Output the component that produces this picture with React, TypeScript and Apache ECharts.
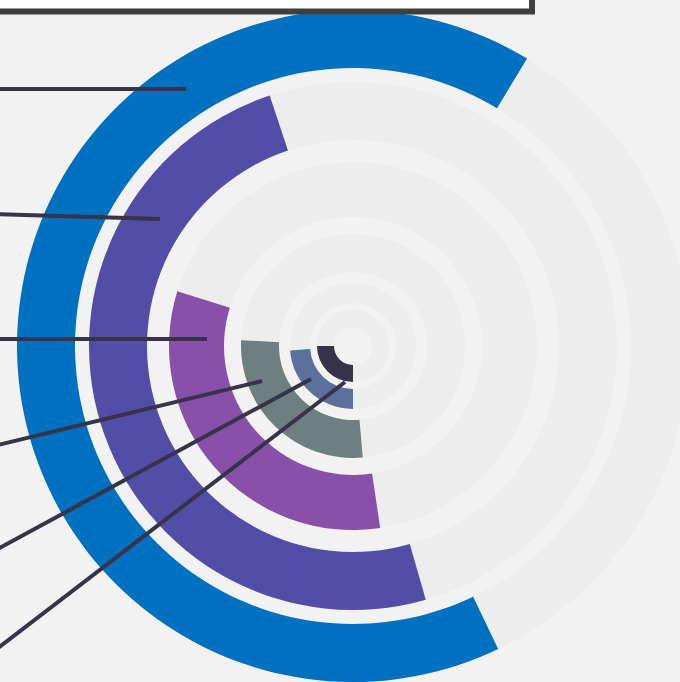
import React, { useEffect, useRef } from 'react';
import * as echarts from 'echarts';

// Rings, listed from the innermost to the outermost
const categories = ['Ring 1', 'Ring 2', 'Ring 3', 'Ring 4', 'Ring 5', 'Ring 6'];
// Angles in degrees, measured clockwise from the bottom (6 o'clock)
const startDeg = [0, 0, -5, -8.5, -16, -25.6];
const endDeg = [90, 86, 93, 107.3, 161.6, 211.2];

const colors = ['#36334a', '#5b709a', '#6e7f80', '#8850a8', '#524ea8', '#0070c0'];

// layout
const CENTER: [number, number] = [353, 346];
const BANDS: [number, number][] = [
  [19, 36],
  [43, 63],
  [74, 112],
  [129, 184],
  [206, 264],
  [278, 336],
];
const ORIGIN = 30; // axis starts this many degrees before the bottom
const LEADERS: [number, number, number, number][] = [
  [-6, 89, 186, 89],
  [-6, 214, 160, 219],
  [-6, 339, 207, 339],
  [-6, 446, 262, 381],
  [-6, 551, 311, 379],
  [-6, 651, 345, 382],
];

export default function App() {
  const ref = useRef<HTMLDivElement>(null);
  useEffect(() => {
    if (!ref.current) return;
    const chart = echarts.init(ref.current, undefined, { renderer: 'svg' });
    const polar: any[] = [];
    const angleAxis: any[] = [];
    const radiusAxis: any[] = [];
    const series: any[] = [];
    categories.forEach((cat, i) => {
      polar.push({ center: CENTER, radius: BANDS[i] });
      angleAxis.push({
        polarIndex: i,
        type: 'value',
        min: 0,
        max: 360,
        startAngle: 270 + ORIGIN,
        clockwise: true,
        show: false,
      });
      radiusAxis.push({
        polarIndex: i,
        type: 'category',
        data: [cat],
        show: false,
      });
      series.push({
        type: 'bar',
        coordinateSystem: 'polar',
        polarIndex: i,
        stack: 'ring' + i,
        barWidth: '100%',
        data: [startDeg[i] + ORIGIN],
        itemStyle: { color: 'rgba(0,0,0,0)' },
        silent: true,
        z: 1,
      });
      series.push({
        type: 'bar',
        name: cat,
        coordinateSystem: 'polar',
        polarIndex: i,
        stack: 'ring' + i,
        barWidth: '100%',
        data: [endDeg[i] - startDeg[i]],
        itemStyle: { color: colors[i] },
        showBackground: true,
        backgroundStyle: { color: '#ededed' },
        z: 2,
      });
    });
    const graphic: any[] = [
      {
        type: 'rect',
        z: 100,
        shape: { x: -20, y: -30, width: 552, height: 41.5 },
        style: { fill: '#ffffff', stroke: '#404040', lineWidth: 6 },
      },
      ...LEADERS.map(([x1, y1, x2, y2]) => ({
        type: 'line',
        z: 100,
        shape: { x1, y1, x2, y2 },
        style: { stroke: '#37344a', lineWidth: 4, lineCap: 'butt' },
      })),
    ];
    chart.setOption({
      animation: false,
      backgroundColor: '#f2f2f2',
      polar,
      angleAxis,
      radiusAxis,
      series,
      graphic,
    });
    return () => chart.dispose();
  }, []);
  return (
    <div
      ref={ref}
      style={{ position: 'fixed', left: 0, top: 0, width: 680, height: 682 }}
    />
  );
}
